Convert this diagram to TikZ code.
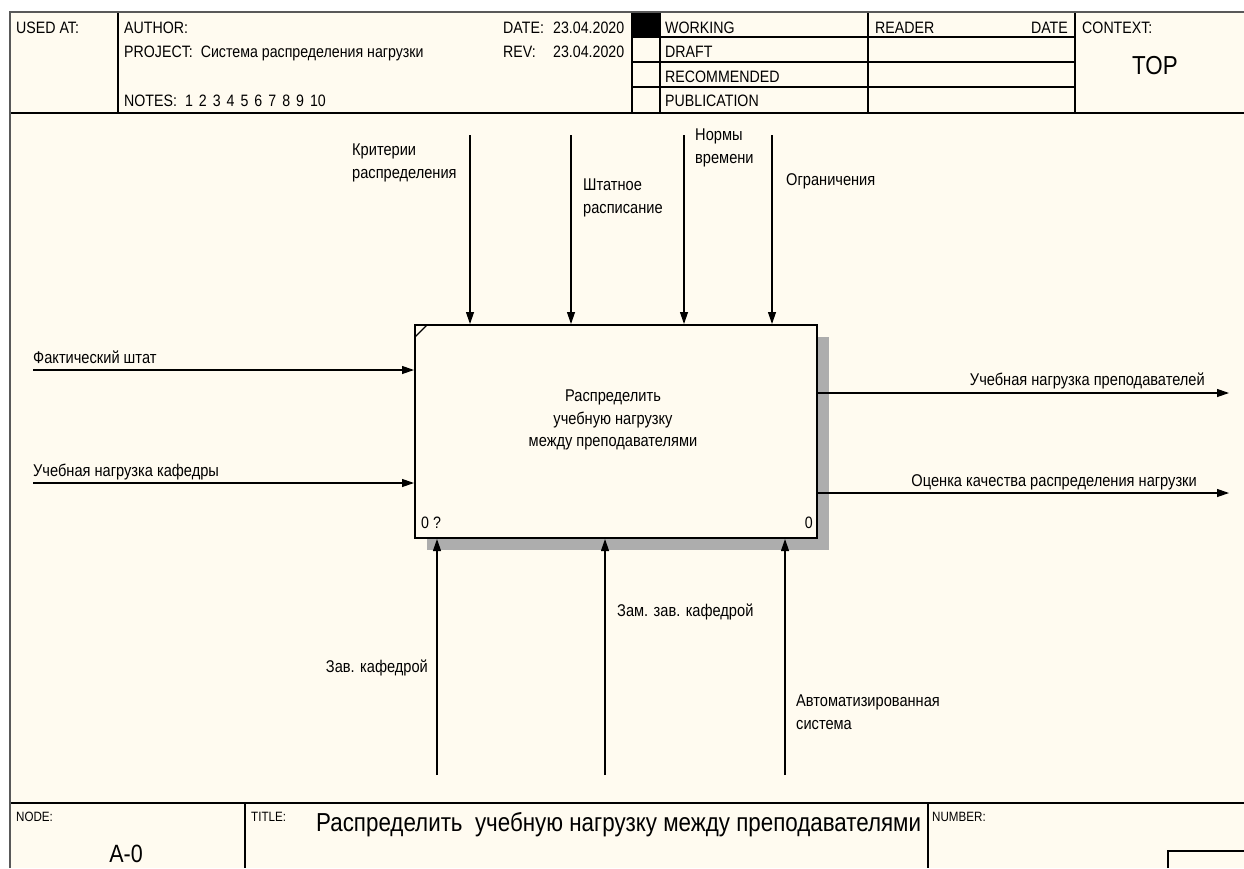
\documentclass[tikz,border=0pt]{standalone}
\usepackage{fontspec}
\setmainfont[FakeStretch=0.86]{Liberation Sans}
\usetikzlibrary{arrows.meta}
\definecolor{cream}{RGB}{255,251,240}
\tikzset{
  frame/.style={line width=1.3pt, draw=black},
  border/.style={line width=2.4pt, draw=black!65},
  arr/.style={line width=1.2pt, -{Triangle[length=12pt,width=8pt]}},
  lbl/.style={inner sep=0pt, font=\fontsize{17}{22.5}\selectfont, align=left},
  hdr/.style={inner sep=0pt, font=\fontsize{16.5}{18}\selectfont, anchor=base west},
  ftr/.style={inner sep=0pt, font=\fontsize{13.5}{15}\selectfont, anchor=base west},
  funcbox/.style={draw, line width=2pt, fill=cream, minimum width=402pt, minimum height=213pt, inner sep=0pt},
  boxtxt/.style={inner sep=0pt, font=\fontsize{17}{22.5}\selectfont, align=center},
}
\begin{document}
\begin{tikzpicture}[x=1pt,y=-1pt]
\useasboundingbox (0,0) rectangle (1244,868);
\fill[white] (0,0) rectangle (1244,868);
\fill[cream] (10,12) rectangle (1244,868);

% ---------- header ----------
\draw[frame] (10,113) -- (1244,113);
\draw[frame] (118,12) -- (118,113);
\draw[frame] (632,12) -- (632,113);
\draw[frame] (660,12) -- (660,113);
\draw[frame] (868,12) -- (868,113);
\draw[frame] (1075,12) -- (1075,113);
\draw[frame] (632,37) -- (1075,37);
\draw[frame] (632,62) -- (1075,62);
\draw[frame] (632,87) -- (1075,87);
\fill[black] (632,12) rectangle (660,37);

\node[hdr] (usedat) at (16,33) {USED AT:};
\node[hdr] (author) at (124,33) {AUTHOR:};
\node[hdr] (project) at (124,57) {PROJECT:\hspace{8pt}Система распределения нагрузки};
\node[hdr] (notes) at (124,106) {NOTES:\hspace{8pt}1\hspace{6pt}2\hspace{6pt}3\hspace{6pt}4\hspace{6pt}5\hspace{6pt}6\hspace{6pt}7\hspace{6pt}8\hspace{6pt}9\hspace{6pt}10};
\node[hdr] (date) at (503,33) {DATE:};
\node[hdr] (dateval) at (553,33) {23.04.2020};
\node[hdr] (rev) at (503,57) {REV:};
\node[hdr] (revval) at (553,57) {23.04.2020};
\node[hdr] (working) at (665,33) {WORKING};
\node[hdr] (draft) at (665,57) {DRAFT};
\node[hdr] (recommended) at (665,82) {RECOMMENDED};
\node[hdr] (publication) at (665,106) {PUBLICATION};
\node[hdr] (reader) at (875,33) {READER};
\node[hdr, anchor=base east] (rdate) at (1068,33) {DATE};
\node[hdr] (context) at (1082,33) {CONTEXT:};
\node[inner sep=0pt, font=\fontsize{26}{30}\selectfont, anchor=base] (top) at (1155,74) {TOP};

% ---------- footer ----------
\draw[frame] (10,803) -- (1244,803);
\draw[frame] (245,803) -- (245,868);
\draw[frame] (928,803) -- (928,868);
\draw[frame] (1168,868) -- (1168,851) -- (1244,851);
\node[ftr] (nodelbl) at (16,821) {NODE:};
\node[ftr] (titlelbl) at (251,821) {TITLE:};
\node[ftr] (numberlbl) at (932,821) {NUMBER:};
\node[inner sep=0pt, font=\fontsize{26}{30}\selectfont, anchor=base west] (title) at (316,831) {Распределить\ \ учебную нагрузку между преподавателями};
\node[inner sep=0pt, font=\fontsize{25}{30}\selectfont, anchor=base] (nodeid) at (126,862) {A-0};

% ---------- outer border ----------
\draw[border] (10,868) -- (10,12) -- (1244,12);

% ---------- function box ----------
\fill[black!32] (427,337) rectangle (829,550);
\node[funcbox] (box) at (616,431.5) {};
\node[boxtxt] (boxtext) at (613,420) {Распределить\\учебную нагрузку\\между преподавателями};
\draw[line width=1.3pt] (415,337) -- (427,325);
\node[hdr] (boxnum) at (421,528) {0 ?};
\node[hdr, anchor=base east] (boxid) at (813,528) {0};

% ---------- controls ----------
\coordinate (c1) at (470,135);
\coordinate (c2) at (571,135);
\coordinate (c3) at (684,135);
\coordinate (c4) at (772,135);
\draw[arr] (c1) -- (c1 |- box.north);
\draw[arr] (c2) -- (c2 |- box.north);
\draw[arr] (c3) -- (c3 |- box.north);
\draw[arr] (c4) -- (c4 |- box.north);
\node[lbl, anchor=base west] (lc1) at (352,178) {Критерии\\распределения};
\node[lbl, anchor=base west] (lc2) at (583,213) {Штатное\\расписание};
\node[lbl, anchor=base west] (lc3) at (695,163) {Нормы\\времени};
\node[lbl, anchor=base west] (lc4) at (786,185) {Ограничения};

% ---------- inputs ----------
\coordinate (i1) at (33,370);
\coordinate (i2) at (33,483);
\draw[arr] (i1) -- (box.west |- i1);
\draw[arr] (i2) -- (box.west |- i2);
\node[lbl, anchor=base west] (li1) at (33,363) {Фактический штат};
\node[lbl, anchor=base west] (li2) at (33,476) {Учебная нагрузка кафедры};

% ---------- outputs ----------
\coordinate (o1) at (1229,393);
\coordinate (o2) at (1229,493);
\draw[arr] (box.east |- o1) -- (o1);
\draw[arr] (box.east |- o2) -- (o2);
\node[lbl, anchor=base east] (lo1) at (1205,385) {Учебная нагрузка преподавателей};
\node[lbl, anchor=base east] (lo2) at (1197,486) {Оценка качества распределения нагрузки};

% ---------- mechanisms ----------
\coordinate (m1) at (437,775);
\coordinate (m2) at (605,775);
\coordinate (m3) at (785,775);
\draw[arr] (m1) -- (m1 |- box.south);
\draw[arr] (m2) -- (m2 |- box.south);
\draw[arr] (m3) -- (m3 |- box.south);
\node[lbl, anchor=base east] (lm1) at (428,672) {Зав. кафедрой};
\node[lbl, anchor=base west] (lm2) at (617,616) {Зам. зав. кафедрой};
\node[lbl, anchor=base west] (lm3) at (796,729) {Автоматизированная\\система};
\end{tikzpicture}
\end{document}
